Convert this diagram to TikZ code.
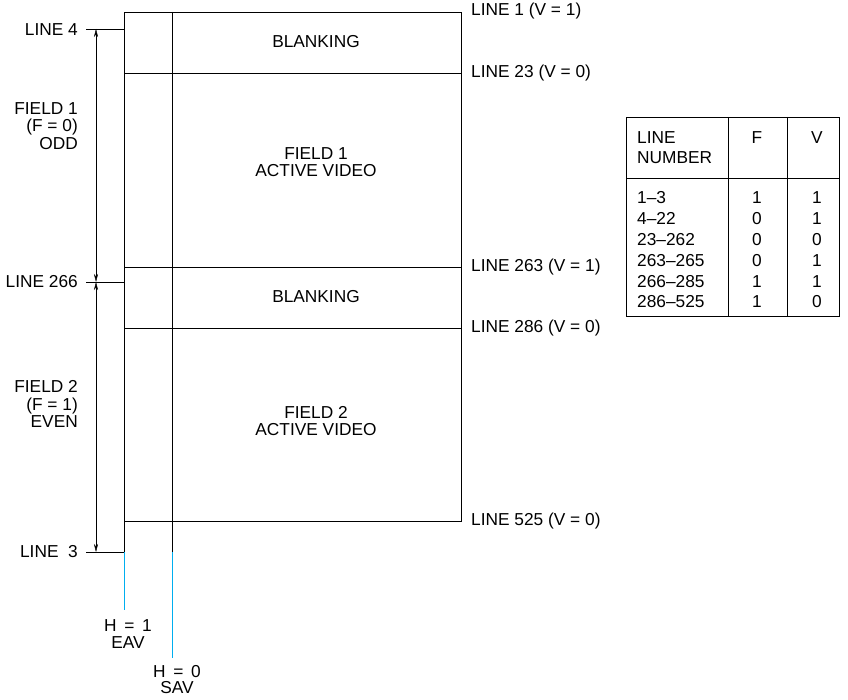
\documentclass[tikz,border=0pt]{standalone}
\usepackage{fontspec}
\setmainfont{Liberation Sans}
\usetikzlibrary{arrows.meta,positioning,calc}
\definecolor{hcyan}{RGB}{0,174,239}

\begin{document}
\begin{tikzpicture}[x=1pt,y=-1pt,font=\fontsize{17.3}{17.7}\selectfont,
  txt/.style={inner sep=0pt,align=center},
  dim/.style={{Stealth[length=8pt,width=4pt]}-{Stealth[length=8pt,width=4pt]}}]
  \useasboundingbox (0,0) rectangle (848,700);
  % frame of the two fields
  \draw (124,12) rectangle (461,521);
  \draw (124,73) -- (461,73); \draw (124,267) -- (461,267); \draw (124,328) -- (461,328);
  \draw (172,12) -- (172,552); \draw (124,521) -- (124,552);
  \draw[hcyan] (124,552) -- (124,610); \draw[hcyan] (172,552) -- (172,658);
  \node[txt] (blk1) at (316,42) {BLANKING};
  \node[txt] (act1) at (316,162) {FIELD 1\\ACTIVE VIDEO};
  \node[txt] (blk2) at (316,297) {BLANKING};
  \node[txt] (act2) at (316,421) {FIELD 2\\ACTIVE VIDEO};
  % line numbers on the right
  \node[txt,anchor=west] (l1) at (471,11) {LINE 1 (V = 1)};
  \node[txt,anchor=west] (l23) at (471,73) {LINE 23 (V = 0)};
  \node[txt,anchor=west] (l263) at (471,267) {LINE 263 (V = 1)};
  \node[txt,anchor=west] (l286) at (471,328) {LINE 286 (V = 0)};
  \node[txt,anchor=west] (l525) at (471,521) {LINE 525 (V = 0)};
  % field marks on the left
  \coordinate (t4) at (86,29); \coordinate (t266) at (86,282); \coordinate (t3) at (86,552);
  \draw (t4) -- (124,29); \draw (t266) -- (124,282); \draw (t3) -- (124,552);
  \node[txt,anchor=east] (l4) at (78,30) {LINE 4};
  \node[txt,anchor=east] (l266) at (78,282) {LINE 266};
  \node[txt,anchor=east] (l3) at (78,552) {LINE\ \ 3};
  \draw[dim] ($(t4)+(10,0)$) -- ($(t266)+(10,0)$);
  \draw[dim] ($(t266)+(10,0)$) -- ($(t3)+(10,0)$);
  \node[txt,anchor=east,align=right] (f1) at (78,126) {FIELD 1\\(F = 0)\\ODD};
  \node[txt,anchor=east,align=right] (f2) at (78,404) {FIELD 2\\(F = 1)\\EVEN};
  \node[txt] (eav) at (128,634) {H\,\ =\,\ 1\\EAV};
  \node[txt,font=\fontsize{17.3}{16}\selectfont] (sav) at (177,680) {H\,\ =\,\ 0\\SAV};
  % table of F and V
  \draw (626,117) rectangle (839,316);
  \draw (728,117) -- (728,316); \draw (787,117) -- (787,316); \draw (626,178) -- (839,178);
  \node[txt,anchor=west,align=left,font=\fontsize{17.3}{20}\selectfont] (hln) at (637,148) {LINE\\NUMBER};
  \node[txt] (hf) at (757,138) {F};
  \node[txt] (hv) at (817,138) {V};
  \foreach \ln/\f/\v [count=\i from 0] in {1--3/1/1,4--22/0/1,23--262/0/0,263--265/0/1,266--285/1/1,286--525/1/0}{
    \node[txt,anchor=west] (r\i) at (637,198+20.8*\i) {\ln};
    \node[txt] (rf\i) at (757,198+20.8*\i) {\f};
    \node[txt] (rv\i) at (817,198+20.8*\i) {\v};
  }
\end{tikzpicture}
\end{document}
